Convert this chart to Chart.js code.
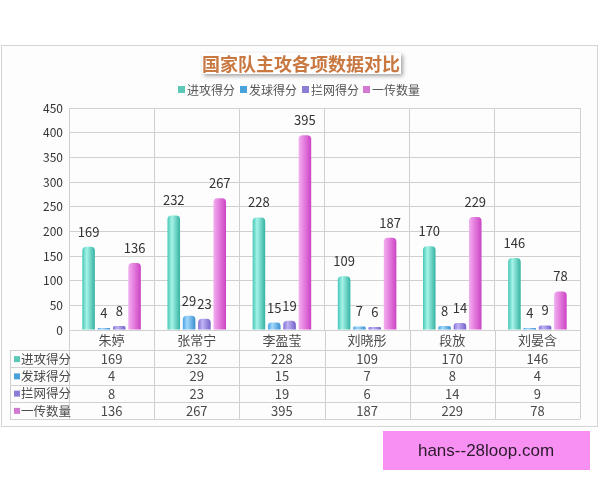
<!DOCTYPE html>
<html>
<head>
<meta charset="utf-8">
<script src="https://cdn.jsdelivr.net/npm/chart.js@4"></script>
<style>
  body { margin: 0; background: #fff; }
  canvas { display: block; }
</style>
</head>
<body>
<canvas id="chart" width="600" height="480"></canvas>
<script>
// data
const players = ['朱婷', '张常宁', '李盈莹', '刘晓彤', '段放', '刘晏含'];
const seriesNames = ['进攻得分', '发球得分', '拦网得分', '一传数量'];
const attack = [169, 232, 228, 109, 170, 146];
const serve = [4, 29, 15, 7, 8, 4];
const block = [8, 23, 19, 6, 14, 9];
const reception = [136, 267, 395, 187, 229, 78];
const yTicks = [0, 50, 100, 150, 200, 250, 300, 350, 400, 450];

const seriesValues = [attack, serve, block, reception];
const legendColors = ['#5cc9b6', '#4aa2dc', '#8c7cd4', '#d27ad2'];
// gradient stops for the cylinder look: left, middle, right
const barStops = [
  ['#47c8b6', '#a6f3e8', '#35b3a2'],
  ['#4aa4e6', '#a2d8fb', '#3a8fd0'],
  ['#8472d6', '#c0b2f4', '#7462c8'],
  ['#f0b0ee', '#e888e2', '#cc44c4']
];

const CAT_PCT = 0.72, BAR_PCT = 0.82;
const FONT = '"Noto Sans CJK SC", "Liberation Sans", sans-serif';

function barFill(ctx) {
  const chart = ctx.chart;
  const xs = chart.scales.x;
  const stops = barStops[ctx.datasetIndex];
  if (!chart.chartArea || !xs || !xs.width) return stops[1];
  const cw = xs.width / players.length;
  const group = cw * CAT_PCT;
  const slot = group / seriesNames.length;
  const center = xs.getPixelForValue(ctx.dataIndex);
  const left = center - group / 2 + ctx.datasetIndex * slot + slot * (1 - BAR_PCT) / 2;
  const w = slot * BAR_PCT;
  const g = chart.ctx.createLinearGradient(left, 0, left + w, 0);
  g.addColorStop(0, stops[0]);
  g.addColorStop(0.35, stops[1]);
  g.addColorStop(1, stops[2]);
  return g;
}

// frame, title, legend
const framePlugin = {
  id: 'frame',
  beforeDraw(chart) {
    const c = chart.ctx;
    c.save();
    c.fillStyle = '#ffffff';
    c.fillRect(0, 0, 600, 480);
    c.fillStyle = '#fdfdfd';
    c.strokeStyle = '#d4d4d4';
    c.lineWidth = 1;
    c.fillRect(1, 45, 597, 382);
    c.strokeRect(1.5, 45.5, 596, 381);
    c.restore();
  },
  afterDraw(chart) {
    const c = chart.ctx;
    c.save();
    // title box with shadow
    c.shadowColor = 'rgba(0,0,0,0.35)';
    c.shadowBlur = 4;
    c.shadowOffsetX = 2;
    c.shadowOffsetY = 2;
    c.fillStyle = '#ffffff';
    c.fillRect(202, 53, 199, 21);
    c.shadowColor = 'transparent';
    c.fillStyle = '#c87840';
    c.font = 'bold 18px ' + FONT;
    c.textAlign = 'center';
    c.textBaseline = 'middle';
    c.fillText('国家队主攻各项数据对比', 301, 64);

    // legend
    c.font = '12px ' + FONT;
    c.textAlign = 'left';
    const lx = [178, 240, 302, 363];
    seriesNames.forEach((n, i) => {
      c.fillStyle = legendColors[i];
      c.fillRect(lx[i], 86, 7, 7);
      c.fillStyle = '#555';
      c.fillText(n, lx[i] + 9, 90);
    });

    // watermark
    c.fillStyle = '#f890f4';
    c.fillRect(383, 431, 207, 39);
    c.fillStyle = '#2a1a2a';
    c.font = '17px "Liberation Sans", sans-serif';
    c.textAlign = 'center';
    c.fillText('hans--28loop.com', 486, 451);
    c.restore();
  }
};

// value labels above bars
const valueLabels = {
  id: 'valueLabels',
  afterDatasetsDraw(chart) {
    const c = chart.ctx;
    c.save();
    c.font = '13px ' + FONT;
    c.fillStyle = '#333';
    c.textAlign = 'center';
    c.textBaseline = 'middle';
    chart.data.datasets.forEach((ds, di) => {
      chart.getDatasetMeta(di).data.forEach((bar, i) => {
        c.fillText(String(ds.data[i]), bar.x, bar.y - 15);
      });
    });
    c.restore();
  }
};

// data table under the axis
const dataTable = {
  id: 'dataTable',
  afterDraw(chart) {
    const c = chart.ctx;
    const xs = chart.scales.x;
    const cw = xs.width / players.length;
    const top = chart.chartArea.bottom;
    const rowsTop = 350, rowH = 17.25, tableLeft = 10;
    const rowsBottom = rowsTop + rowH * seriesNames.length;
    c.save();
    c.strokeStyle = '#d0d0d0';
    c.lineWidth = 1;
    // vertical lines
    for (let i = 0; i <= players.length; i++) {
      const x = Math.round(xs.left + i * cw) + 0.5;
      c.beginPath();
      c.moveTo(x, top);
      c.lineTo(x, rowsBottom);
      c.stroke();
    }
    c.beginPath();
    c.moveTo(tableLeft + 0.5, rowsTop);
    c.lineTo(tableLeft + 0.5, rowsBottom);
    c.stroke();
    for (let r = 0; r <= seriesNames.length; r++) {
      const y = Math.round(rowsTop + r * rowH) + 0.5;
      c.beginPath();
      c.moveTo(tableLeft, y);
      c.lineTo(xs.right, y);
      c.stroke();
    }
    c.font = '13px ' + FONT;
    c.textAlign = 'center';
    c.textBaseline = 'middle';
    c.fillStyle = '#4a4a4a';
    players.forEach((p, i) => {
      c.fillText(p, xs.getPixelForValue(i), 340);
    });
    seriesNames.forEach((n, r) => {
      const y = rowsTop + r * rowH + rowH / 2 + 0.5;
      c.fillStyle = legendColors[r];
      c.fillRect(tableLeft + 4, y - 3, 6, 6);
      c.fillStyle = '#4a4a4a';
      c.textAlign = 'left';
      c.font = '12.5px ' + FONT;
      c.fillText(n, tableLeft + 11, y);
      c.textAlign = 'center';
      c.font = '13px ' + FONT;
      seriesValues[r].forEach((v, i) => {
        c.fillText(String(v), xs.getPixelForValue(i), y);
      });
    });
    c.restore();
  }
};

new Chart(document.getElementById('chart'), {
  type: 'bar',
  data: {
    labels: players,
    datasets: seriesNames.map((n, i) => ({
      label: n,
      data: seriesValues[i],
      backgroundColor: barFill,
      borderWidth: 0,
      borderRadius: { topLeft: 4, topRight: 4 },
      borderSkipped: 'bottom',
      categoryPercentage: CAT_PCT,
      barPercentage: BAR_PCT
    }))
  },
  options: {
    responsive: false,
    animation: false,
    devicePixelRatio: 1,
    layout: { padding: { top: 108, bottom: 150, left: 0, right: 20 } },
    plugins: {
      legend: { display: false },
      title: { display: false },
      tooltip: { enabled: false }
    },
    scales: {
      x: {
        ticks: { display: false },
        grid: { color: '#d0d0d0', drawTicks: false, offset: true },
        border: { color: '#d0d0d0' },
        afterFit(s) { s.height = 0; }
      },
      y: {
        min: 0,
        max: 450,
        afterBuildTicks(s) { s.ticks = yTicks.map(v => ({ value: v })); },
        ticks: { color: '#333', font: { family: FONT, size: 12 }, padding: 6 },
        grid: { color: '#d0d0d0', drawTicks: false },
        border: { color: '#d0d0d0' },
        afterFit(s) { s.width = 69; }
      }
    }
  },
  plugins: [framePlugin, valueLabels, dataTable]
});
</script>
</body>
</html>
